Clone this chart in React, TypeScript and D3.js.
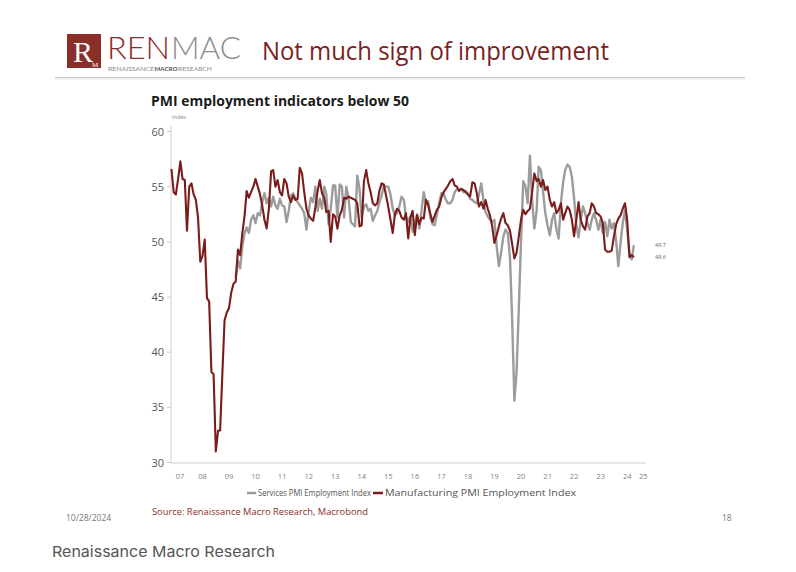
import React from "react";
import * as d3 from "d3";

// ---- data ----
const manufacturingStart: [number, number] = [2007, 4]; // May 2007
const servicesStart: [number, number] = [2009, 9]; // Oct 2009

const manufacturing: number[] = [
  // 2007 May-Dec
  56.6, 54.5, 54.3, 55.7, 57.3, 55.7, 55.6, 51.0,
  // 2008
  55.0, 55.3, 54.3, 53.8, 52.2, 48.2, 48.7, 50.2, 44.9, 44.6, 38.2, 38.0,
  // 2009
  31.0, 32.9, 32.9, 38.1, 42.9, 43.6, 44.0, 45.4, 46.2, 46.4, 49.3, 48.8,
  // 2010
  50.8, 52.4, 54.6, 54.0, 54.5, 55.0, 55.7, 55.0, 54.3, 53.3, 52.0, 51.2,
  // 2011
  53.0, 56.4, 56.5, 55.0, 55.6, 54.5, 54.2, 55.7, 55.3, 54.1, 53.6, 54.2,
  // 2012
  53.8, 53.9, 56.7, 56.2, 54.5, 53.0, 52.4, 52.1, 51.9, 53.1, 54.6, 55.6,
  // 2013
  54.4, 54.0, 52.7, 52.8, 50.0, 52.5, 52.3, 51.2, 52.4, 52.9, 54.0, 53.9,
  // 2014
  54.1, 54.0, 53.9, 53.8, 53.5, 51.4, 51.5, 55.5, 56.5, 55.3, 54.5, 53.5,
  // 2015
  53.3, 53.5, 54.6, 55.3, 55.2, 54.2, 53.2, 52.0, 50.8, 52.5, 53.0, 52.8,
  // 2016
  52.2, 52.0, 52.6, 50.3, 52.2, 52.8, 50.6, 52.4, 51.6, 52.2, 52.1, 53.8,
  // 2017
  53.3, 52.5, 51.8, 52.4, 52.9, 53.2, 54.0, 54.5, 54.8, 55.1, 55.5, 55.7,
  // 2018
  55.1, 55.0, 54.6, 54.8, 54.7, 54.5, 54.3, 54.1, 55.4, 55.3, 54.4, 53.2,
  // 2019
  53.6, 53.0, 53.8, 53.0, 52.4, 51.4, 49.9, 50.6, 51.4, 52.1, 52.6, 51.7,
  // 2020
  51.5, 51.0, 49.8, 48.5, 49.0, 50.5, 52.0, 52.9, 52.5, 52.8, 53.0, 54.5,
  // 2021
  56.2, 55.5, 55.7, 55.0, 55.6, 54.7, 55.0, 53.8, 53.2, 53.6, 52.6, 52.9,
  // 2022
  53.5, 52.0, 52.6, 53.2, 52.9, 52.0, 50.5, 52.0, 53.6, 52.0, 51.4, 51.1,
  // 2023
  52.3, 52.6, 53.5, 53.2, 52.6, 52.5, 52.3, 51.7, 49.3, 49.1, 49.1, 49.2,
  // 2024 Jan-Oct
  50.5, 51.6, 52.1, 52.4, 53.0, 53.5, 52.0, 48.6, 48.8, 48.6,
];

const services: number[] = [
  // 2009 Oct-Dec
  46.8, 48.3, 47.6,
  // 2010
  49.6, 50.8, 51.3, 50.8, 52.0, 52.4, 51.7, 52.6, 52.4, 53.6, 54.4, 53.5,
  // 2011
  54.0, 53.2, 54.1, 53.3, 53.0, 53.9, 53.3, 53.2, 51.8, 52.8, 54.2, 54.4,
  // 2012
  53.9, 53.6, 53.3, 53.0, 52.6, 51.1, 52.8, 54.0, 53.6, 55.0, 52.8, 53.9,
  // 2013
  53.0, 55.0, 54.3, 51.6, 53.0, 55.1, 55.1, 52.2, 55.2, 55.0, 52.2, 55.0,
  // 2014
  54.0, 51.8, 51.6, 51.4, 56.0, 54.8, 52.2, 53.2, 53.4, 52.8, 53.0, 51.9,
  // 2015
  52.4, 52.8, 53.6, 54.2, 55.1, 55.0, 55.0, 54.3, 53.0, 52.4, 52.6, 53.2,
  // 2016
  54.1, 53.8, 52.3, 51.8, 52.3, 50.9, 51.8, 52.5, 51.2, 52.8, 54.5, 53.5,
  // 2017
  53.7, 52.2, 51.6, 51.5, 52.5, 53.5, 54.4, 54.4, 53.8, 53.5, 53.5, 53.8,
  // 2018
  54.5, 54.8, 54.7, 54.8, 54.5, 54.6, 54.4, 53.9, 53.8, 53.6, 53.5, 54.3,
  // 2019
  55.3, 53.7, 52.7, 52.3, 52.0, 51.8, 52.0, 49.6, 47.8, 49.0, 50.5, 51.1,
  // 2020
  50.8, 48.5, 43.0, 35.6, 38.2, 44.0, 50.0, 55.5, 55.0, 53.5, 57.8, 53.8,
  // 2021
  51.2, 52.8, 56.8, 56.5, 54.5, 52.6, 51.5, 50.6, 52.0, 52.6, 51.1, 50.3,
  // 2022
  53.5, 55.4, 56.5, 57.0, 56.8, 55.9, 54.0, 51.5, 50.4, 52.0, 53.2, 52.6,
  // 2023
  51.7, 51.1, 52.0, 52.6, 52.0, 51.1, 52.0, 50.8, 51.8, 50.5, 52.0, 51.2,
  // 2024 Jan-Oct
  51.7, 50.0, 47.8, 49.9, 51.7, 52.9, 51.1, 49.0, 48.4, 49.7,
];

const yTicks = [30, 35, 40, 45, 50, 55, 60];
const yearLabels = ["07", "08", "09", "10", "11", "12", "13", "14", "15", "16", "17", "18", "19", "20", "21", "22", "23", "24", "25"];
const legendLabels = ["Services PMI Employment Index", "Manufacturing PMI Employment Index"];
const lastLabels = ["49.7", "48.6"];

const GRAY = "#9c9c9c";
const RED = "#7a1c1c";

function toPoints(start: [number, number], values: number[]): [Date, number][] {
  return values.map((v, i) => [new Date(start[0], start[1] + i, 1), v]);
}

export default function App() {
  const W = 796;
  const H = 572;
  const x = d3.scaleTime().domain([new Date(2007, 3, 25), new Date(2025, 2, 17)]).range([171, 646]);
  const y = d3.scaleLinear().domain([30, 60]).range([462.5, 131.5]);
  const line = d3
    .line<[Date, number]>()
    .x((d) => x(d[0]))
    .y((d) => y(d[1]));

  const mPts = toPoints(manufacturingStart, manufacturing);
  const sPts = toPoints(servicesStart, services);
  const [x0, x1] = x.range();

  const yearPos = yearLabels.map((lab, i) => {
    const yr = 2007 + i;
    const a = Math.max(x(new Date(yr, 0, 1)), x0);
    const b = Math.min(x(new Date(yr + 1, 0, 1)), x1);
    return { lab, cx: (a + b) / 2 };
  });

  const sLast = sPts[sPts.length - 1];
  const mLast = mPts[mPts.length - 1];

  const sans = "'Open Sans', 'Noto Sans', sans-serif";
  const logoFont = "Lato, 'Open Sans', sans-serif";

  return (
    <svg
      width={W}
      height={H}
      viewBox={`0 0 ${W} ${H}`}
      style={{ position: "absolute", left: 0, top: 0, display: "block", background: "#fff" }}
    >
      <rect x={0} y={0} width={W} height={H} fill="#ffffff" />

      {/* Logo */}
      <rect x={67} y={34} width={34} height={34} fill="#8a2e2a" />
      <text x={83} y={62} textAnchor="middle" fontFamily="'Liberation Serif', 'DejaVu Serif', serif" fontSize={30} fill="#ffffff">
        R
      </text>
      <text x={95} y={67} textAnchor="middle" fontFamily="'Liberation Serif', serif" fontSize={7} fill="#ffffff">
        M
      </text>
      <text x={107} y={59} fontFamily={logoFont} fontWeight={300} fontSize={31} fill="#8a2e2a" textLength={63} lengthAdjust="spacingAndGlyphs">
        REN
      </text>
      <text x={171} y={59} fontFamily={logoFont} fontWeight={300} fontSize={31} fill="#8c8c8c" textLength={70} lengthAdjust="spacingAndGlyphs">
        MAC
      </text>
      <text x={108} y={71} fontFamily={logoFont} fontSize={5} fill="#8a8a8a" textLength={46} lengthAdjust="spacingAndGlyphs">
        RENAISSANCE
      </text>
      <text x={154.5} y={71} fontFamily={logoFont} fontSize={5} fontWeight={700} fill="#555" textLength={23} lengthAdjust="spacingAndGlyphs">
        MACRO
      </text>
      <text x={178} y={71} fontFamily={logoFont} fontSize={5} fill="#8a8a8a" textLength={34} lengthAdjust="spacingAndGlyphs">
        RESEARCH
      </text>

      {/* Slide title */}
      <text x={262} y={60} fontFamily={sans} fontSize={26} fill="#7a1f1f" textLength={347} lengthAdjust="spacingAndGlyphs">
        Not much sign of improvement
      </text>
      <line x1={55} x2={745} y1={77.5} y2={77.5} stroke="#c4c4c4" strokeWidth={1.2} />
      <line x1={55} x2={745} y1={79} y2={79} stroke="#ececec" strokeWidth={1.5} />

      {/* Chart title */}
      <text x={151} y={106} fontFamily={sans} fontWeight={700} fontSize={15} fill="#1a1a1a" textLength={258} lengthAdjust="spacingAndGlyphs">
        PMI employment indicators below 50
      </text>
      <text x={172} y={119} fontFamily={sans} fontSize={5.5} fill="#888">
        Index
      </text>

      {/* Axes */}
      <line x1={x0} x2={x0} y1={126} y2={463} stroke="#cfcfcf" strokeWidth={1} />
      <line x1={x0} x2={x1} y1={463} y2={463} stroke="#cfcfcf" strokeWidth={1.2} />
      {yTicks.map((t) => (
        <g key={t}>
          <line x1={x0 - 4} x2={x0} y1={y(t)} y2={y(t)} stroke="#cfcfcf" />
          <text x={x0 - 7} y={y(t) + 4} textAnchor="end" fontFamily={sans} fontSize={11} fill="#555">
            {t}
          </text>
        </g>
      ))}
      {yearPos.map((p) => (
        <text key={p.lab} x={p.cx} y={479} textAnchor="middle" fontFamily={sans} fontSize={7.5} fill="#7f7f7f">
          {p.lab}
        </text>
      ))}

      {/* Series */}
      <path d={line(sPts) || ""} fill="none" stroke={GRAY} strokeWidth={2.4} strokeLinejoin="round" />
      <path d={line(mPts) || ""} fill="none" stroke={RED} strokeWidth={2.1} strokeLinejoin="round" />

      {/* Last values */}
      <text x={655} y={y(sLast[1]) + 2} fontFamily={sans} fontSize={5.5} fill="#666">
        {lastLabels[0]}
      </text>
      <text x={655} y={y(mLast[1]) + 2} fontFamily={sans} fontSize={5.5} fill="#666">
        {lastLabels[1]}
      </text>

      {/* Legend */}
      <line x1={247} x2={256} y1={493} y2={493} stroke={GRAY} strokeWidth={2.5} />
      <text x={258} y={496} fontFamily={sans} fontSize={8.5} fill="#555" textLength={113} lengthAdjust="spacingAndGlyphs">
        {legendLabels[0]}
      </text>
      <line x1={373} x2={383} y1={493} y2={493} stroke={RED} strokeWidth={2.5} />
      <text x={385} y={496} fontFamily={sans} fontSize={8.5} fill="#555" textLength={191} lengthAdjust="spacingAndGlyphs">
        {legendLabels[1]}
      </text>

      {/* Source & footer */}
      <text x={152} y={515} fontFamily={sans} fontSize={9} fill="#8a2e2a" textLength={216} lengthAdjust="spacingAndGlyphs">
        Source: Renaissance Macro Research, Macrobond
      </text>
      <text x={66} y={521} fontFamily={sans} fontSize={8.5} fill="#777">
        10/28/2024
      </text>
      <text x={722} y={521} fontFamily={sans} fontSize={8.5} fill="#777">
        18
      </text>
      <text x={52} y={557} fontFamily="Inter, 'Noto Sans', sans-serif" fontSize={15} fill="#555" textLength={223} lengthAdjust="spacingAndGlyphs">
        Renaissance Macro Research
      </text>
    </svg>
  );
}
